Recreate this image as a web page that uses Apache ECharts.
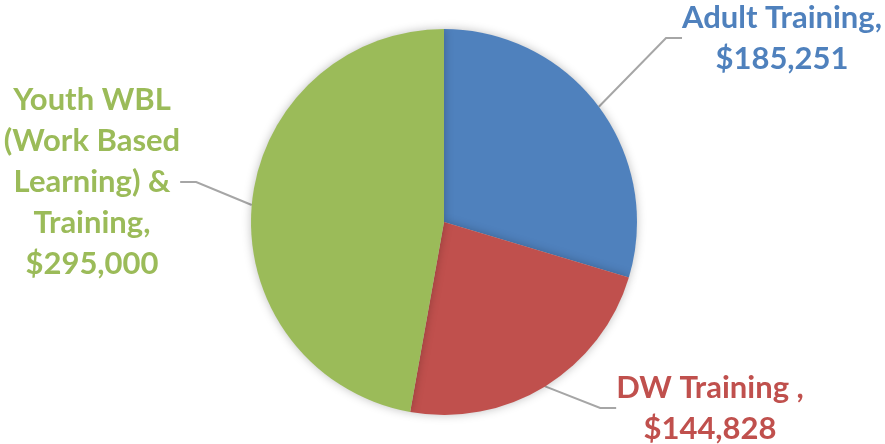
<!DOCTYPE html>
<html>
<head>
<meta charset="utf-8">
<script src="https://cdn.jsdelivr.net/npm/echarts@6/dist/echarts.min.js"></script>
<style>
html,body{margin:0;padding:0;background:#fff;}
#chart{width:885px;height:444px;}
</style>
</head>
<body>
<div id="chart"></div>
<script>
const categories = ['Adult Training', 'DW Training ', 'Youth WBL\n(Work Based\nLearning) &\nTraining'];
const values = [185251, 144828, 295000];
const colors = ['#4F81BD', '#C0504D', '#9BBB59'];

// label centre positions (layout only)
const labelPos = [[782, 38], [710, 408], [92, 182]];

const chart = echarts.init(document.getElementById('chart'), null, {renderer: 'canvas'});
const data = categories.map((c, i) => ({
  name: c,
  value: values[i],
  itemStyle: {color: colors[i]},
  label: {color: colors[i]}
}));

chart.setOption({
  animation: false,
  backgroundColor: '#ffffff',
  series: [{
    type: 'pie',
    center: [444, 222],
    radius: [0, 193],
    startAngle: 90,
    clockwise: true,
    data: data,
    itemStyle: {
      borderWidth: 0,
      shadowBlur: 10,
      shadowColor: 'rgba(0,0,0,0.25)'
    },
    label: {
      show: true,
      position: 'outside',
      fontFamily: 'Lato',
      fontWeight: 'bold',
      fontSize: 31,
      lineHeight: 41,
      align: 'center',
      formatter: p => p.name + ',\n$' + p.value.toLocaleString('en-US')
    },
    labelLine: {
      show: true,
      length: 20,
      length2: 16,
      smooth: false,
      lineStyle: {color: '#A6A6A6', width: 2}
    },
    labelLayout: function (params) {
      const pos = labelPos[params.dataIndex];
      return {x: pos[0], y: pos[1], align: 'center', verticalAlign: 'middle'};
    },
    emphasis: {disabled: true}
  }]
});
</script>
</body>
</html>
